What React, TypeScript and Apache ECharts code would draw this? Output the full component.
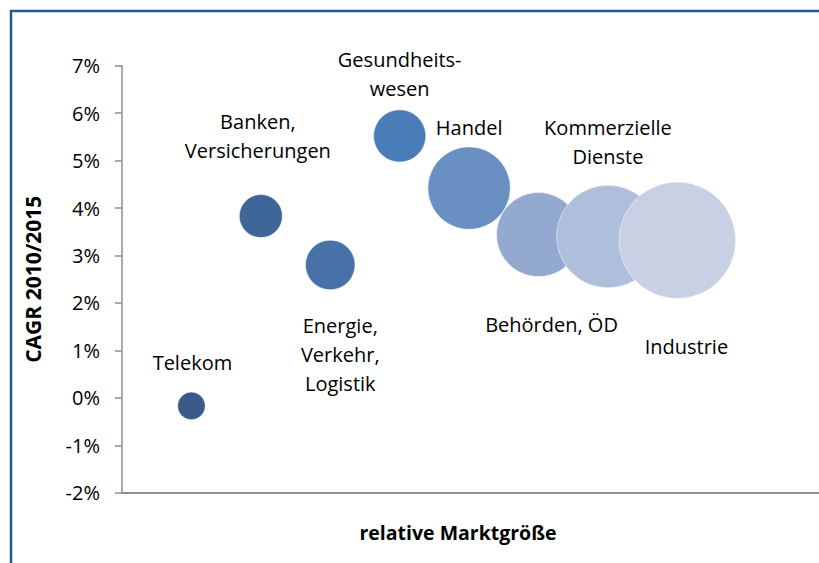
import React, { useEffect, useRef } from "react";
import * as echarts from "echarts";

const categories = [
  "Telekom",
  "Banken,\nVersicherungen",
  "Energie,\nVerkehr,\nLogistik",
  "Gesundheits-\nwesen",
  "Handel",
  "Behörden, ÖD",
  "Kommerzielle\nDienste",
  "Industrie",
];
const xPositions = [1, 2, 3, 4, 5, 6, 7, 8];
const cagrValues = [-0.17, 3.83, 2.8, 5.52, 4.42, 3.44, 3.4, 3.32];
const marketSizes = [5.6, 13.6, 18.0, 20.0, 49.9, 51.9, 77.4, 100];
const yTicks = [-2, -1, 0, 1, 2, 3, 4, 5, 6, 7];

// styling / layout (not data)
const bubbleColors = [
  "#3A5A88",
  "#3F6699",
  "#4672A8",
  "#4A7DB8",
  "#6A8FC3",
  "#94A9D0",
  "#AFBFDB",
  "#C8D1E4",
];
const labelOffsets: [number, number][] = [
  [1, -43],
  [-3, -80],
  [10, 90],
  [0, -62],
  [0, -61],
  [13, 90],
  [0, -95],
  [9, 106],
];

const FONT = "'Open Sans', 'Noto Sans', sans-serif";

export default function App() {
  const ref = useRef<HTMLDivElement>(null);
  useEffect(() => {
    if (!ref.current) return;
    const chart = echarts.init(ref.current, null, { renderer: "svg" });
    const maxDiameter = 116.6;
    const data = categories.map((name, i) => ({
      name,
      value: [xPositions[i], cagrValues[i], marketSizes[i]],
      itemStyle: { color: bubbleColors[i] },
      label: { offset: labelOffsets[i] },
    }));
    chart.setOption({
      animation: false,
      backgroundColor: "#ffffff",
      grid: { left: 122, right: 0, top: 65.7, height: 427, containLabel: false },
      xAxis: {
        type: "value",
        min: 0,
        max: 10.04,
        axisLine: { show: true, onZero: false, lineStyle: { color: "#8E8E8E", width: 2 } },
        axisTick: { show: false },
        axisLabel: { show: false },
        splitLine: { show: false },
      },
      yAxis: {
        type: "value",
        min: yTicks[0],
        max: yTicks[yTicks.length - 1],
        interval: 1,
        name: "CAGR 2010/2015",
        nameLocation: "middle",
        nameRotate: 90,
        nameGap: 79,
        nameTextStyle: {
          fontFamily: FONT,
          fontWeight: "bold",
          fontSize: 21,
          color: "#000",
        },
        axisLine: { show: true, onZero: false, lineStyle: { color: "#8E8E8E", width: 1.5 } },
        axisTick: {
          show: true,
          inside: false,
          length: 7,
          lineStyle: { color: "#8E8E8E", width: 1.5 },
        },
        axisLabel: {
          formatter: (v: number) => v + "%",
          fontFamily: FONT,
          fontSize: 20,
          color: "#000",
          margin: 22,
        },
        splitLine: { show: false },
      },
      graphic: [
        {
          type: "rect",
          shape: { x: 11, y: 11, width: 860, height: 600 },
          style: { fill: "none", stroke: "#1F5A96", lineWidth: 2.5 },
          silent: true,
          z: 100,
        },
        {
          type: "text",
          x: 458,
          y: 532,
          style: {
            text: "relative Marktgröße",
            fontFamily: FONT,
            fontWeight: "bold",
            fontSize: 19.5,
            fill: "#000",
            align: "center",
            verticalAlign: "middle",
          },
        },
      ],
      series: [
        {
          type: "scatter",
          silent: true,
          symbol: "circle",
          symbolSize: (v: number[]) => maxDiameter * Math.sqrt(v[2] / 100),
          itemStyle: { opacity: 1, borderColor: "rgba(255,255,255,0.6)", borderWidth: 0.8 },
          label: {
            show: true,
            position: "inside",
            formatter: (p: any) => p.name,
            fontFamily: FONT,
            fontSize: 20,
            color: "#000",
            lineHeight: 29,
            align: "center",
            verticalAlign: "middle",
          },
          emphasis: { disabled: true },
          data,
        },
      ],
    });
    return () => chart.dispose();
  }, []);
  return (
    <div
      ref={ref}
      style={{ position: "fixed", left: 0, top: 0, width: 819, height: 563 }}
    />
  );
}
